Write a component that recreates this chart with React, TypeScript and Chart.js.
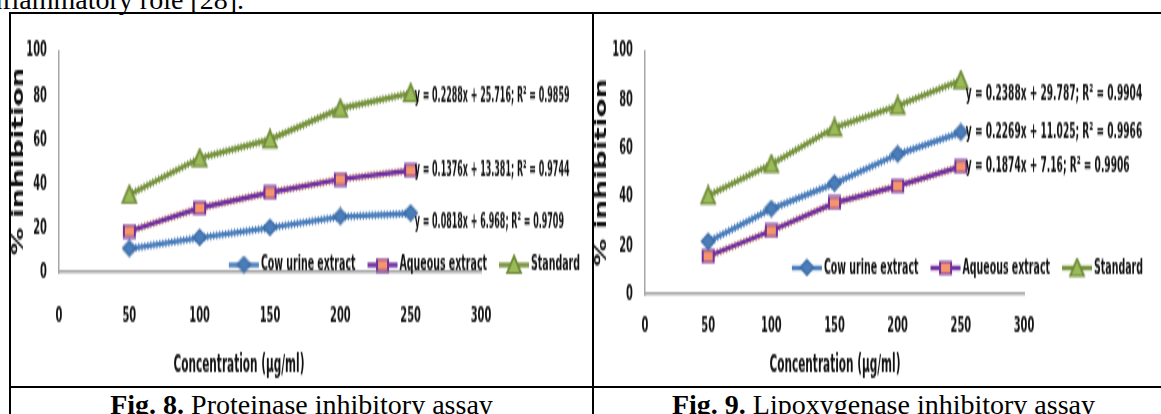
import React, { useEffect, useRef } from "react";
import { Chart, registerables } from "chart.js";

Chart.register(...registerables);

// ---------- data ----------
const concentrations = [50, 100, 150, 200, 250];
const seriesLabels = ["Cow urine extract", "Aqueous extract", "Standard"];
const xTickValues = [0, 50, 100, 150, 200, 250, 300];
const yTickValues = [0, 20, 40, 60, 80, 100];

const fig8Cow = [10.5, 15.5, 20, 25, 26.5];
const fig8Aqueous = [18.5, 29, 36, 42, 46];
const fig8Standard = [35, 51.5, 60, 74, 81];
const fig8Equations = [
  "y = 0.0818x + 6.968; R² = 0.9709",
  "y = 0.1376x + 13.381; R² = 0.9744",
  "y = 0.2288x + 25.716; R² = 0.9859",
];

const fig9Cow = [21.5, 35, 45.5, 57.5, 66.5];
const fig9Aqueous = [15.5, 26, 37.5, 44.5, 52.5];
const fig9Standard = [40.5, 53.5, 68.5, 77.5, 88];
const fig9Equations = [
  "y = 0.2269x + 11.025; R² = 0.9966",
  "y = 0.1874x + 7.16; R² = 0.9906",
  "y = 0.2388x + 29.787; R² = 0.9904",
];

const xTitle = "Concentration (µg/ml)";
const yTitle = "% inhibition";
const introText = "anti-inflammatory role [28].";
const fig8CaptionBold = "Fig. 8.";
const fig8CaptionText = " Proteinase inhibitory assay";
const fig9CaptionBold = "Fig. 9.";
const fig9CaptionText = " Lipoxygenase inhibitory assay";

// ---------- styles ----------
const S = 2.0; // vertical stretch of the chart pictures
const CHART_FONT = "'DejaVu Sans Condensed', 'DejaVu Sans', sans-serif";
const SERIF = "'Liberation Serif', 'DejaVu Serif', serif";
const TEXT = "#111";
const AXIS = "#A6A6A6";
const TICK_SIZE = 11;
const EQ_SIZE = 10.3;
const LEGEND_SIZE = 10.5;
const XTITLE_SIZE = 11.7;
const YTITLE_SIZE = 15.5;

const SERIES_STYLES = [
  { line: "#4A7EBB", fill: "#4A7EBB", border: "#3B6AA3", hair: "#5F8CC6", marker: "diamond", mw: 13, mh: 15 },
  { line: "#7030A0", fill: "#F4956C", border: "#7030A0", hair: "#D99A5E", marker: "square", mw: 11, mh: 12 },
  { line: "#77933C", fill: "#9BBB59", border: "#6E8A36", hair: "#869F5E", marker: "triangle", mw: 14, mh: 17 },
];

// marker drawn pre-squashed so that it looks normal after the vertical stretch
function makeMarker(kind: string, w: number, h: number, fill: string, stroke: string) {
  const c = document.createElement("canvas");
  c.width = w + 4;
  c.height = Math.ceil((h + 4) / S);
  const ctx = c.getContext("2d")!;
  ctx.scale(1, 1 / S);
  const cx = (w + 4) / 2, cy = (h + 4) / 2;
  ctx.beginPath();
  if (kind === "diamond") {
    ctx.moveTo(cx, cy - h / 2);
    ctx.lineTo(cx + w / 2, cy);
    ctx.lineTo(cx, cy + h / 2);
    ctx.lineTo(cx - w / 2, cy);
  } else if (kind === "square") {
    ctx.rect(cx - w / 2, cy - h / 2, w, h);
  } else {
    ctx.moveTo(cx, cy - h / 2);
    ctx.lineTo(cx + w / 2, cy + h / 2);
    ctx.lineTo(cx - w / 2, cy + h / 2);
  }
  ctx.closePath();
  ctx.fillStyle = fill;
  ctx.fill();
  ctx.lineWidth = 2;
  ctx.strokeStyle = stroke;
  ctx.stroke();
  return c;
}

type PanelCfg = {
  left: number; top: number; width: number; height: number;
  plot: { left: number; right: number; top: number; bottom: number };
  xTickY: number; xTitleX: number; xTitleY: number; yTitleX: number;
  legendRight: number; legendY: number;
  eqOffsets: number[][]; eqScaleX: number;
  series: number[][];
  equations: string[];
};

const fig8Panel: PanelCfg = {
  left: 11, top: 14, width: 581, height: 372,
  plot: { left: 59, right: 481, top: 34, bottom: 272 },
  xTickY: 316, xTitleX: 239, xTitleY: 365, yTitleX: 19,
  legendRight: 580, legendY: 265,
  eqOffsets: [[4, 9], [4, 0], [4, 4]], eqScaleX: 0.86,
  series: [fig8Cow, fig8Aqueous, fig8Standard],
  equations: fig8Equations,
};

const fig9Panel: PanelCfg = {
  left: 594, top: 14, width: 567, height: 372,
  plot: { left: 645, right: 1024, top: 34, bottom: 294 },
  xTickY: 327, xTitleX: 835, xTitleY: 366, yTitleX: 602,
  legendRight: 1143, legendY: 268,
  eqOffsets: [[5, 0], [5, 1], [5, 14]], eqScaleX: 0.98,
  series: [fig9Cow, fig9Aqueous, fig9Standard],
  equations: fig9Equations,
};

function ChartPanel({ cfg }: { cfg: PanelCfg }) {
  const ref = useRef<HTMLCanvasElement>(null);
  const hc = cfg.height / S;

  useEffect(() => {
    const canvas = ref.current!;
    const toCy = (y: number) => (y - cfg.top) / S;
    const plotL = cfg.plot.left - cfg.left;
    const plotR = cfg.plot.right - cfg.left;
    const plotT = toCy(cfg.plot.top);
    const plotB = toCy(cfg.plot.bottom);
    const tickLH = TICK_SIZE * 1.2;
    const yTitleLH = YTITLE_SIZE * 1.2;
    const markers = SERIES_STYLES.map((st) => makeMarker(st.marker, st.mw, st.mh, st.fill, st.border));

    const datasets: any[] = [];
    cfg.series.forEach((vals, i) => {
      const st = SERIES_STYLES[i];
      datasets.push({
        label: seriesLabels[i],
        data: concentrations.map((x, j) => ({ x, y: vals[j] })),
        borderColor: st.line,
        backgroundColor: st.fill,
        pointStyle: markers[i],
        pointRadius: 6,
        borderWidth: 2.4,
        tension: 0,
      });
    });
    cfg.series.forEach((vals, i) => {
      const st = SERIES_STYLES[i];
      datasets.push({
        label: seriesLabels[i] + " trend",
        data: concentrations.map((x, j) => ({ x, y: vals[j] })),
        borderColor: st.hair,
        borderWidth: 4.2,
        borderDash: [1.2, 1.8],
        borderCapStyle: "butt",
        pointRadius: 0,
        tension: 0,
      });
    });

    const overlay = {
      id: "overlay",
      afterDatasetsDraw(chart: any) {
        const ctx = chart.ctx as CanvasRenderingContext2D;
        ctx.save();
        ctx.fillStyle = TEXT;
        ctx.textBaseline = "middle";
        ctx.textAlign = "left";
        ctx.font = `bold ${EQ_SIZE}px ${CHART_FONT}`;
        cfg.equations.forEach((txt, i) => {
          const meta = chart.getDatasetMeta(i);
          const pt = meta.data[meta.data.length - 1];
          const [dx, dy] = cfg.eqOffsets[i];
          ctx.save();
          ctx.translate(pt.x + dx, pt.y + dy / S);
          ctx.scale(cfg.eqScaleX, 1);
          ctx.fillText(txt, 0, 0);
          ctx.restore();
        });
        // x axis title
        ctx.textAlign = "center";
        ctx.font = `bold ${XTITLE_SIZE}px ${CHART_FONT}`;
        ctx.fillText(xTitle, cfg.xTitleX - cfg.left, toCy(cfg.xTitleY));
        // legend
        ctx.textAlign = "left";
        ctx.font = `bold ${LEGEND_SIZE}px ${CHART_FONT}`;
        const sym = 30, gapText = 2, gapItem = 12;
        const widths = seriesLabels.map((l) => ctx.measureText(l).width);
        const total = widths.reduce((a, w) => a + sym + gapText + w, 0) + gapItem * (seriesLabels.length - 1);
        let x = cfg.legendRight - cfg.left - total;
        const y = toCy(cfg.legendY);
        seriesLabels.forEach((l, i) => {
          const st = SERIES_STYLES[i];
          ctx.strokeStyle = st.line;
          ctx.lineWidth = 2.4;
          ctx.beginPath();
          ctx.moveTo(x, y);
          ctx.lineTo(x + sym, y);
          ctx.stroke();
          const m = markers[i];
          ctx.drawImage(m, x + sym / 2 - m.width / 2, y - m.height / 2);
          ctx.fillStyle = TEXT;
          ctx.fillText(l, x + sym + gapText, y);
          x += sym + gapText + widths[i] + gapItem;
        });
        ctx.restore();
      },
    };

    const chart = new Chart(canvas, {
      type: "line",
      data: { datasets },
      plugins: [overlay],
      options: {
        animation: false,
        responsive: false,
        maintainAspectRatio: false,
        devicePixelRatio: 1,
        layout: { padding: { left: 0, top: plotT, right: cfg.width - plotR, bottom: 0 } },
        plugins: { legend: { display: false }, tooltip: { enabled: false }, title: { display: false } },
        scales: {
          x: {
            type: "linear",
            min: 0,
            max: 300,
            afterBuildTicks: (s: any) => { s.ticks = xTickValues.map((v) => ({ value: v })); },
            afterFit: (s: any) => { s.height = hc - plotB; },
            grid: { display: false, drawTicks: false },
            border: { display: true, color: AXIS, width: 1.5 },
            ticks: {
              padding: toCy(cfg.xTickY) - plotB - tickLH / 2,
              color: TEXT,
              font: { family: CHART_FONT, size: TICK_SIZE, weight: "bold" },
              maxRotation: 0,
              autoSkip: false,
            },
            title: { display: false, text: xTitle },
          },
          y: {
            type: "linear",
            min: 0,
            max: 100,
            afterBuildTicks: (s: any) => { s.ticks = yTickValues.map((v) => ({ value: v })); },
            afterFit: (s: any) => { s.width = plotL; },
            grid: { display: false, drawTicks: false },
            border: { display: true, color: AXIS, width: 1.5 },
            ticks: {
              padding: 12,
              color: TEXT,
              font: { family: CHART_FONT, size: TICK_SIZE, weight: "bold" },
            },
            title: {
              display: true,
              text: yTitle,
              color: TEXT,
              font: { family: CHART_FONT, size: YTITLE_SIZE, weight: "bold" },
              padding: { top: cfg.yTitleX - cfg.left - yTitleLH / 2, bottom: 0 },
            },
          },
        },
      } as any,
    });
    return () => chart.destroy();
  }, [cfg]);

  return (
    <div
      style={{
        position: "absolute",
        left: cfg.left,
        top: cfg.top,
        width: cfg.width,
        height: hc,
        transform: `scaleY(${S})`,
        transformOrigin: "0 0",
      }}
    >
      <canvas ref={ref} width={cfg.width} height={hc} style={{ width: cfg.width, height: hc, display: "block" }} />
    </div>
  );
}

const line = (left: number, top: number, width: number, height: number) => (
  <div style={{ position: "absolute", left, top, width, height, background: "#000" }} />
);

export default function App() {
  const serifStyle: React.CSSProperties = {
    position: "absolute",
    fontFamily: SERIF,
    fontSize: 28,
    lineHeight: "28px",
    whiteSpace: "nowrap",
    color: "#000",
  };
  return (
    <div style={{ position: "fixed", left: 0, top: 0, width: 1161, height: 414, overflow: "hidden", background: "#fff" }}>
      <div style={{ ...serifStyle, right: 1161 - 244, top: -14 }}>{introText}</div>
      {line(9, 12, 1170, 2)}
      {line(9, 12, 2, 420)}
      {line(592, 12, 2, 420)}
      {line(9, 386, 1170, 2)}
      <ChartPanel cfg={fig8Panel} />
      <ChartPanel cfg={fig9Panel} />
      <div style={{ ...serifStyle, left: 11, width: 581, top: 391, textAlign: "center" }}>
        <b>{fig8CaptionBold}</b>{fig8CaptionText}
      </div>
      <div style={{ ...serifStyle, left: 594, width: 579, top: 391, textAlign: "center" }}>
        <b>{fig9CaptionBold}</b>{fig9CaptionText}
      </div>
    </div>
  );
}
